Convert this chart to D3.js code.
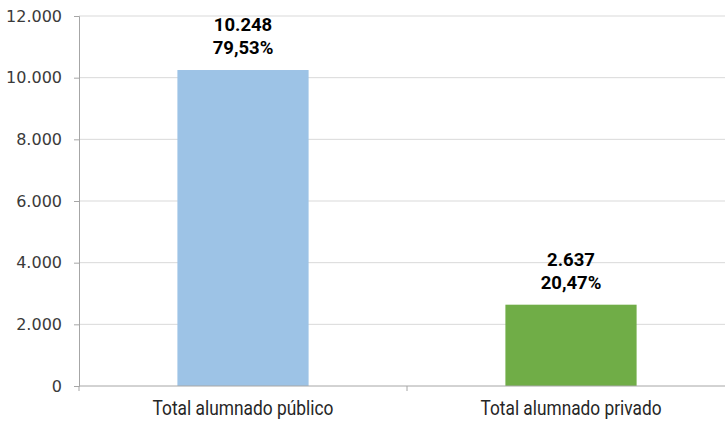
<!DOCTYPE html>
<html><head><meta charset="utf-8">
<script src="https://cdn.jsdelivr.net/npm/d3@7"></script>
<style>
html,body{margin:0;padding:0;background:#fff;}
svg{display:block;font-family:"Roboto","Liberation Sans",sans-serif;}
</style></head>
<body><svg id="chart" width="725" height="422"></svg>
<script>
const categories = ["Total alumnado público", "Total alumnado privado"];
const values = [10248, 2637];
const percentLabels = ["79,53%", "20,47%"];
const valueLabels = ["10.248", "2.637"];
const colors = ["#9dc3e6", "#70ad47"];
const yTicks = [0, 2000, 4000, 6000, 8000, 10000, 12000];

(function () {
const svg = d3.select("#chart");
const mLeft = 79, mRight = 735, mTop = 16, mBottom = 386;
const x = d3.scaleBand().domain(categories).range([mLeft, mRight]).paddingInner(0.6).paddingOuter(0.3);
const y = d3.scaleLinear().domain([0, 12000]).range([mBottom, mTop]);
const fmt = d => d3.format(",")(d).replace(/,/g, ".");

// gridlines
svg.append("g").selectAll("line").data(yTicks.slice(1)).join("line")
  .attr("x1", mLeft).attr("x2", 725)
  .attr("y1", d => y(d)).attr("y2", d => y(d))
  .attr("stroke", "#d9d9d9").attr("stroke-width", 1);

// bars
svg.append("g").selectAll("rect").data(values).join("rect")
  .attr("x", (d, i) => x(categories[i]))
  .attr("width", x.bandwidth())
  .attr("y", d => y(d))
  .attr("height", d => y(0) - y(d))
  .attr("fill", (d, i) => colors[i]);

// y axis
const yAxis = svg.append("g").attr("transform", `translate(${mLeft},0)`)
  .call(d3.axisLeft(y).tickValues(yTicks).tickFormat(fmt).tickSize(5).tickPadding(12));
yAxis.select(".domain").attr("stroke", "#a6a6a6");
yAxis.selectAll(".tick line").attr("stroke", "#a6a6a6");
yAxis.selectAll(".tick text").attr("font-size", 16).attr("fill", "#3a3a3a")
  .attr("font-family", "DejaVu Sans").attr("font-weight", "normal");

// x axis
const xAxisG = svg.append("g").attr("transform", `translate(0,${mBottom})`);
xAxisG.append("line").attr("x1", mLeft).attr("x2", 725).attr("y1", 0).attr("y2", 0)
  .attr("stroke", "#a6a6a6");
const boundaries = [mLeft, mLeft + (mRight - mLeft) / 2];
xAxisG.selectAll("line.tk").data(boundaries).join("line").attr("class", "tk")
  .attr("x1", d => d).attr("x2", d => d).attr("y1", 0).attr("y2", 5)
  .attr("stroke", "#a6a6a6");
xAxisG.selectAll("text").data(categories).join("text")
  .attr("x", d => x(d) + x.bandwidth() / 2).attr("y", 29)
  .attr("text-anchor", "middle").attr("font-size", 19.5).attr("fill", "#262626")
  .attr("textLength", 181).attr("lengthAdjust", "spacingAndGlyphs")
  .text(d => d);

// value labels
const lbl = svg.append("g").selectAll("g").data(values).join("g");
lbl.append("text")
  .attr("x", (d, i) => x(categories[i]) + x.bandwidth() / 2)
  .attr("y", d => y(d) - 39)
  .attr("text-anchor", "middle").attr("font-size", 18.5).attr("font-weight", "bold").attr("fill", "#000")
  .text((d, i) => valueLabels[i]);
lbl.append("text")
  .attr("x", (d, i) => x(categories[i]) + x.bandwidth() / 2)
  .attr("y", d => y(d) - 16)
  .attr("text-anchor", "middle").attr("font-size", 18.5).attr("font-weight", "bold").attr("fill", "#000")
  .text((d, i) => percentLabels[i]);
})();
</script></body></html>
